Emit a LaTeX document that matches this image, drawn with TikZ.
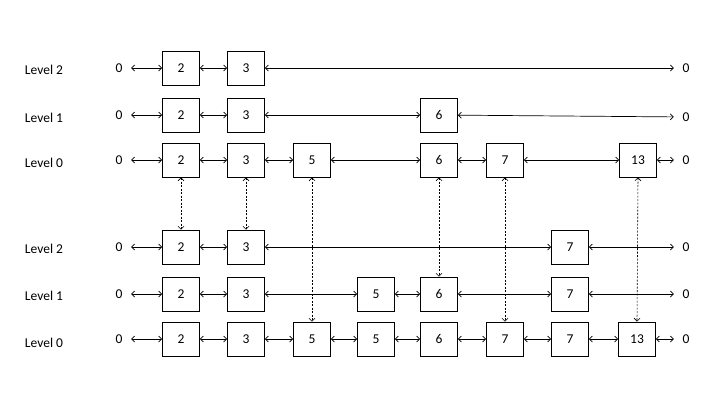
\documentclass[tikz,border=0pt]{standalone}
\usepackage{fontspec}
\setmainfont{Carlito}
\usetikzlibrary{arrows.meta}

\begin{document}
\begin{tikzpicture}[x=1pt,y=-1pt,
font=\fontsize{13.5}{16}\selectfont,
cell/.style={draw,line width=0.8pt,minimum width=37pt,minimum height=34pt,inner sep=0pt},
zero/.style={minimum width=24pt,inner sep=0pt},
lvl/.style={inner sep=0pt},
arr/.style={{Straight Barb[length=3pt,width=6pt]}-{Straight Barb[length=3pt,width=6pt]},line width=0.7pt},
link/.style={{Straight Barb[length=3pt,width=6pt]}-{Straight Barb[length=3pt,width=6pt]},line width=0.6pt,dash pattern=on 2pt off 1.5pt}
]
\useasboundingbox (0,0) rectangle (720,405);

% upper list
\node[lvl] (ul2) at (44,70) {Level 2};
\node[lvl] (ul1) at (44,118) {Level 1};
\node[lvl] (ul0) at (44,163) {Level 0};

\node[zero] (u2z) at (119,68) {0};
\node[cell] (u2a) at (181,68) {2};
\node[cell] (u2b) at (246,68) {3};
\node[zero] (u2e) at (686,68) {0};

\node[zero] (u1z) at (119,115) {0};
\node[cell] (u1a) at (181,115) {2};
\node[cell] (u1b) at (246,115) {3};
\node[cell] (u1c) at (439,115) {6};
\node[zero] (u1e) at (686,117) {0};

\node[zero] (u0z) at (119,160) {0};
\node[cell] (u0a) at (181,160) {2};
\node[cell] (u0b) at (246,160) {3};
\node[cell] (u0c) at (312,160) {5};
\node[cell] (u0d) at (439,160) {6};
\node[cell] (u0e) at (505,160) {7};
\node[cell] (u0f) at (638,160) {13};
\node[zero] (u0g) at (686,160) {0};

% lower list
\node[lvl] (ll2) at (44,249) {Level 2};
\node[lvl] (ll1) at (44,296) {Level 1};
\node[lvl] (ll0) at (44,343) {Level 0};

\node[zero] (l2z) at (119,247) {0};
\node[cell] (l2a) at (181,247) {2};
\node[cell] (l2b) at (246,247) {3};
\node[cell] (l2c) at (570,247) {7};
\node[zero] (l2e) at (686,247) {0};

\node[zero] (l1z) at (119,294) {0};
\node[cell] (l1a) at (181,294) {2};
\node[cell] (l1b) at (246,294) {3};
\node[cell] (l1c) at (376,294) {5};
\node[cell] (l1d) at (439,294) {6};
\node[cell] (l1e) at (570,294) {7};
\node[zero] (l1f) at (686,294) {0};

\node[zero] (l0z) at (119,339) {0};
\node[cell] (l0a) at (181,339) {2};
\node[cell] (l0b) at (246,339) {3};
\node[cell] (l0c) at (312,339) {5};
\node[cell] (l0d) at (376,339) {5};
\node[cell] (l0e) at (439,339) {6};
\node[cell] (l0f) at (505,339) {7};
\node[cell] (l0g) at (570,339) {7};
\node[cell] (l0h) at (637,339) {13};
\node[zero] (l0i) at (686,339) {0};

% horizontal links
\draw[arr] (u2z) -- (u2a);
\draw[arr] (u2a) -- (u2b);
\draw[arr] (u2b) -- (u2e);
\draw[arr] (u1z) -- (u1a);
\draw[arr] (u1a) -- (u1b);
\draw[arr] (u1b) -- (u1c);
\draw[arr] (u1c) -- (u1e);
\draw[arr] (u0z) -- (u0a);
\draw[arr] (u0a) -- (u0b);
\draw[arr] (u0b) -- (u0c);
\draw[arr] (u0c) -- (u0d);
\draw[arr] (u0d) -- (u0e);
\draw[arr] (u0e) -- (u0f);
\draw[arr] (u0f) -- (u0g);

\draw[arr] (l2z) -- (l2a);
\draw[arr] (l2a) -- (l2b);
\draw[arr] (l2b) -- (l2c);
\draw[arr] (l2c) -- (l2e);
\draw[arr] (l1z) -- (l1a);
\draw[arr] (l1a) -- (l1b);
\draw[arr] (l1b) -- (l1c);
\draw[arr] (l1c) -- (l1d);
\draw[arr] (l1d) -- (l1e);
\draw[arr] (l1e) -- (l1f);
\draw[arr] (l0z) -- (l0a);
\draw[arr] (l0a) -- (l0b);
\draw[arr] (l0b) -- (l0c);
\draw[arr] (l0c) -- (l0d);
\draw[arr] (l0d) -- (l0e);
\draw[arr] (l0e) -- (l0f);
\draw[arr] (l0f) -- (l0g);
\draw[arr] (l0g) -- (l0h);
\draw[arr] (l0h) -- (l0i);

% dotted links between the two lists
\draw[link] (u0a) -- (l2a);
\draw[link] (u0b) -- (l2b);
\draw[link] (u0c) -- (l0c);
\draw[link] (u0d) -- (l1d);
\draw[link] (u0e) -- (l0f);
\draw[link] (u0f.south) -- (l0h.north);
\end{tikzpicture}
\end{document}
